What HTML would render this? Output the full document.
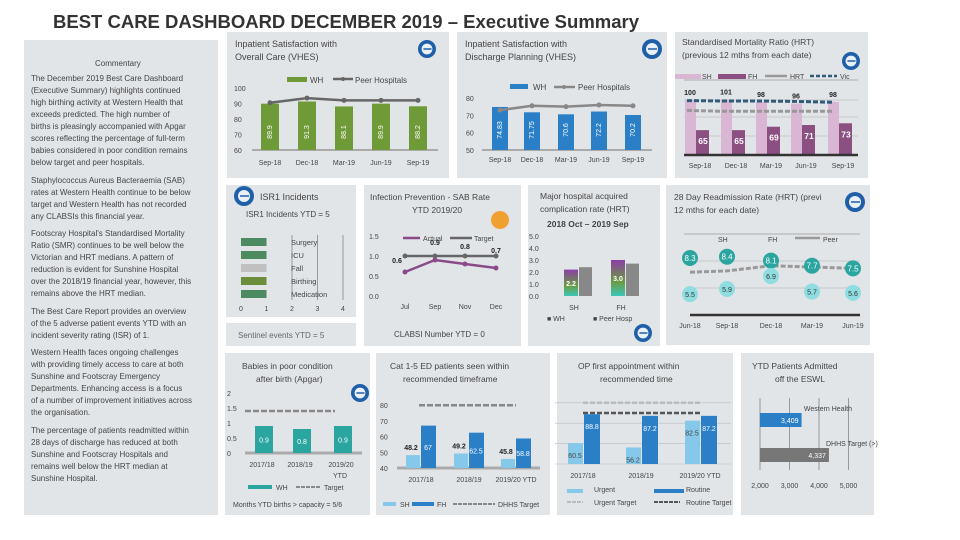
<!DOCTYPE html>
<html><head><meta charset="utf-8">
<style>
body{margin:0;width:960px;height:540px;background:#fff;overflow:hidden;font-family:"Liberation Sans",sans-serif;position:relative}
.p{position:absolute;background:#e2e5e8}
.t{position:absolute;color:#444;font-size:8px;line-height:12px;white-space:nowrap}
svg{position:absolute;left:0;top:0}
</style></head><body>
<div class="t" style="left:53px;top:11px;font-size:18.5px;line-height:22px;font-weight:bold;color:#333">BEST CARE DASHBOARD DECEMBER 2019 – Executive Summary</div>
<div class="p" style="left:24px;top:40px;width:194px;height:475px"></div>
<div class="p" style="left:227px;top:32px;width:222px;height:146px"></div>
<div class="p" style="left:457px;top:32px;width:210px;height:146px"></div>
<div class="p" style="left:675px;top:32px;width:193px;height:146px"></div>
<div class="p" style="left:226px;top:185px;width:130px;height:132px"></div>
<div class="p" style="left:226px;top:323px;width:130px;height:23px"></div>
<div class="p" style="left:364px;top:185px;width:157px;height:161px"></div>
<div class="p" style="left:528px;top:185px;width:132px;height:161px"></div>
<div class="p" style="left:666px;top:185px;width:204px;height:160px"></div>
<div class="p" style="left:225px;top:353px;width:145px;height:162px"></div>
<div class="p" style="left:376px;top:353px;width:174px;height:162px"></div>
<div class="p" style="left:557px;top:353px;width:176px;height:162px"></div>
<div class="p" style="left:741px;top:353px;width:133px;height:162px"></div>

<div class="t" style="left:95px;top:58px">Commentary</div>
<div class="t" style="left:31px;top:73px">The December 2019 Best Care Dashboard<br>(Executive Summary) highlights continued<br>high birthing activity at Western Health that<br>exceeds predicted.  The high number of<br>births is pleasingly accompanied with Apgar<br>scores reflecting the percentage of full-term<br>babies considered in poor condition remains<br>below target and peer hospitals.</div>
<div class="t" style="left:31px;top:175px">Staphylococcus Aureus Bacteraemia (SAB)<br>rates at Western Health continue to be below<br>target and Western Health has not recorded<br>any CLABSIs this financial year.</div>
<div class="t" style="left:31px;top:228px">Footscray Hospital's Standardised Mortality<br>Ratio (SMR) continues to be well below the<br>Victorian and HRT medians. A pattern of<br>reduction is evident for Sunshine Hospital<br>over the 2018/19 financial year, however, this<br>remains above the HRT median.</div>
<div class="t" style="left:31px;top:306px">The Best Care Report provides an overview<br>of the 5 adverse patient events YTD with an<br>incident severity rating (ISR) of 1.</div>
<div class="t" style="left:31px;top:347px">Western Health faces ongoing challenges<br>with providing timely access to care at both<br>Sunshine and Footscray Emergency<br>Departments.  Enhancing access is a focus<br>of a number of improvement initiatives across<br>the organisation.</div>
<div class="t" style="left:31px;top:425px">The percentage of patients readmitted within<br>28 days of discharge has reduced at both<br>Sunshine and Footscray Hospitals and<br>remains well below the HRT median at<br>Sunshine Hospital.</div>

<svg id="s" width="960" height="540" font-family="Liberation Sans, sans-serif" font-size="7" fill="#444"></svg>
<script>
// ---- data ----
const quarters=["Sep-18","Dec-18","Mar-19","Jun-19","Sep-19"];
const overallWH=[89.9,91.3,88.1,89.9,88.2];
const overallPeer=[90.5,93.5,92,92,92];
const overallTicks=[60,70,80,90,100];
const dischargeWH=[74.83,71.75,70.6,72.2,70.2];
const dischargePeer=[73,75.5,75,76,75.5];
const dischargeTicks=[50,60,70,80];
const smrSH=[100,101,98,96,98];
const smrFH=[65,65,69,71,73];
const smrHRT=[88,87,87,87,87];
const smrVic=[99.5,99,99,98.5,97.5];
const readmitQuarters=["Jun-18","Sep-18","Dec-18","Mar-19","Jun-19"];
const readmitSH=[8.3,8.4,8.1,7.7,7.5];
const readmitFH=[5.5,5.9,6.9,5.7,5.6];
const readmitPeer=[7.2,7.3,7.7,7.6,7.5];
const isrCategories=["Surgery","ICU","Fall","Birthing","Medication"];
const isrValues=[1,1,1,1,1];
const isrTicks=[0,1,2,3,4];
const sabMonths=["Jul","Sep","Nov","Dec"];
const sabActual=[0.6,0.9,0.8,0.7];
const sabTarget=[1,1,1,1];
const sabTicks=[0,0.5,1,1.5];
const compSites=["SH","FH"];
const compWH=[2.2,3.0];
const compPeer=[2.4,2.7];
const compTicks=[0,1,2,3,4,5];
const apgarYears=["2017/18","2018/19","2019/20"];
const apgarWH=[0.9,0.8,0.9];
const apgarTarget=1.4;
const apgarTicks=[0,0.5,1,1.5,2];
const edYears=["2017/18","2018/19","2019/20 YTD"];
const edSH=[48.2,49.2,45.8];
const edFH=[67,62.5,58.8];
const edTarget=80;
const edTicks=[40,50,60,70,80];
const opYears=["2017/18","2018/19","2019/20 YTD"];
const opUrgent=[60.5,56.2,82.5];
const opRoutine=[88.8,87.2,87.2];
const opUrgentTarget=100;
const opRoutineTarget=90;
const eswlLabels=["Western Health","DHHS Target (>)"];
const eswlValues=[3409,4337];
const eswlTicks=[2000,3000,4000,5000];

const S=document.getElementById('s');
const NS='http://www.w3.org/2000/svg';
function mk(tag,a,txt){const e=document.createElementNS(NS,tag);for(const k in a)e.setAttribute(k,a[k]);if(txt!==undefined)e.textContent=txt;S.appendChild(e);return e;}
function text(x,y,s,name,extra){const e=mk('text',Object.assign({x:x,y:y},extra||{}),s);
return e;}
function line(x1,y1,x2,y2,st,w,name,dash){const e=mk('line',{x1,y1,x2,y2,stroke:st,'stroke-width':w});if(dash)e.setAttribute('stroke-dasharray',dash);
return e;}
function rect(x,y,w,h,f,name){const e=mk('rect',{x:x,y:y,width:Math.max(0,w),height:Math.max(0,h),fill:f});
return e;}
function poly(pts,st,w,name,dash){const e=mk('polyline',{points:pts.map(p=>p.join(',')).join(' '),fill:'none',stroke:st,'stroke-width':w});if(dash)e.setAttribute('stroke-dasharray',dash);
return e;}
function dot(x,y,r,f,name){const e=mk('circle',{cx:x,cy:y,r:r,fill:f});
return e;}
function icon(x,y,r,name){const g=dot(x,y,r,'#1f5fa8',name);dot(x,y,r*0.6,'#e9f0f8',name+'-inner');line(x-r*0.4,y,x+r*0.5,y,'#1f5fa8',1.5,name+'-mark');}
const T=(s,x,y,n,o)=>text(x,y,s,n,o);

// ---- Overall care ----
T('Inpatient Satisfaction with',235,47,'overall-title',{'font-size':9});
T('Overall Care (VHES)',235,60,'overall-title-2',{'font-size':9});
icon(427,49,9,'overall-icon');
rect(287,77,20,5,'#6f9a38','overall-legend-wh');T('WH',310,83,'overall-legend-wh-label',{'font-size':8});
line(333,79,353,79,'#666',2.5,'overall-legend-peer');dot(343,79,2,'#666','overall-legend-peer-dot');T('Peer Hospitals',355,83,'overall-legend-peer-label',{'font-size':8});
const oy=v=>150-(v-60)*1.55, ox=[270,307,344,381,418];
overallTicks.forEach(t=>T(String(t),234,oy(t)+3,'overall-y-tick'));
line(252,150,438,150,'#aaa',2,'overall-baseline');
quarters.forEach((q,i)=>{rect(ox[i]-9,oy(overallWH[i]),18,150-oy(overallWH[i]),'#6f9a38','overall-bar-wh');
T(String(overallWH[i]),0,0,'overall-bar-value',{fill:'#fff','font-size':7,transform:`translate(${ox[i]+2},${132}) rotate(-90)`,'text-anchor':'middle'});
T(q,ox[i],165,'overall-x-tick',{'text-anchor':'middle'});});
poly(quarters.map((q,i)=>[ox[i],oy(overallPeer[i])]),'#666',2.5,'overall-peer-line');
quarters.forEach((q,i)=>dot(ox[i],oy(overallPeer[i]),2.5,'#666','overall-peer-point'));

// ---- Discharge ----
T('Inpatient Satisfaction with',465,47,'discharge-title',{'font-size':9});
T('Discharge Planning (VHES)',465,60,'discharge-title-2',{'font-size':9});
icon(652,49,10,'discharge-icon');
rect(510,84,18,5,'#2a7fc7','discharge-legend-wh');T('WH',533,90,'discharge-legend-wh-label',{'font-size':8});
line(554,87,575,87,'#888',2.5,'discharge-legend-peer');dot(564,87,2,'#888','discharge-legend-peer-dot');T('Peer Hospitals',578,90,'discharge-legend-peer-label',{'font-size':8});
const dy=v=>150-(v-50)*1.733, dx=[500,532,566,599,633];
dischargeTicks.forEach(t=>T(String(t),466,dy(t)+3,'discharge-y-tick'));
line(482,150,652,150,'#aaa',2,'discharge-baseline');
quarters.forEach((q,i)=>{rect(dx[i]-8,dy(dischargeWH[i]),16,150-dy(dischargeWH[i]),'#2a7fc7','discharge-bar-wh');
T(String(dischargeWH[i]),0,0,'discharge-bar-value',{fill:'#fff','font-size':7,transform:`translate(${dx[i]+2},130) rotate(-90)`,'text-anchor':'middle'});
T(q,dx[i],162,'discharge-x-tick',{'text-anchor':'middle'});});
poly(quarters.map((q,i)=>[dx[i],dy(dischargePeer[i])]),'#888',2.5,'discharge-peer-line');
quarters.forEach((q,i)=>dot(dx[i],dy(dischargePeer[i]),2.5,'#888','discharge-peer-point'));

// ---- SMR ----
T('Standardised Mortality Ratio (HRT)',682,45,'smr-title',{'font-size':8.5});
T('(previous 12 mths from each date)',682,58,'smr-title-2',{'font-size':8.5});
icon(851,61,9,'smr-icon');
rect(675,74,26,5,'#d8b6d4','smr-legend-sh');T('SH',702,79,'smr-legend-sh-label');
rect(718,74,28,5,'#8b4f82','smr-legend-fh');T('FH',748,79,'smr-legend-fh-label');
line(765,76,787,76,'#999',2.5,'smr-legend-hrt');T('HRT',790,79,'smr-legend-hrt-label');
line(810,76,837,76,'#2f5b7a',2.5,'smr-legend-vic','4,2');T('Vic',840,79,'smr-legend-vic-label');
line(684,80,858,80,'#999',0.7,'smr-legend-rule');
const sy=v=>155-(v-36)*0.857, sx=[700,736,771,806,843];
[100,117,136].forEach(y=>line(684,y,858,y,'#aaa',0.6,'smr-gridline'));
quarters.forEach((q,i)=>{rect(sx[i]-15,sy(smrSH[i]),11,155-sy(smrSH[i]),'#d8b6d4','smr-bar-sh');
rect(sx[i]-4,sy(smrFH[i]),13,155-sy(smrFH[i]),'#8b4f82','smr-bar-fh');
T(String(smrSH[i]),sx[i]-10,sy(smrSH[i])-5,'smr-sh-value',{'text-anchor':'middle','font-weight':'bold',fill:'#222'});
T(String(smrFH[i]),sx[i]+3,sy(smrFH[i])+14,'smr-fh-value',{'text-anchor':'middle','font-size':8.5,'font-weight':'bold',fill:'#fff'});
T(q,sx[i],168,'smr-x-tick',{'text-anchor':'middle'});});
poly(quarters.map((q,i)=>[sx[i]-13+i*1,sy(smrHRT[i])]),'#999',3,'smr-hrt-line','5,2');
poly(quarters.map((q,i)=>[sx[i]-13+i*1,sy(smrVic[i])]),'#2f5b7a',3,'smr-vic-line','5,2');
line(684,155,858,155,'#333',2.5,'smr-baseline');

// ---- ISR1 ----
icon(244,196,10,'isr-icon');
T('ISR1 Incidents',260,200,'isr-title',{'font-size':9});
T('ISR1 Incidents YTD = 5',246,217,'isr-ytd',{'font-size':8});
const ix=v=>241+v*25.5, iy=[242,255,268,281,294], ic=['#4e8a5f','#4e8a5f','#c0c0c0','#6b8e3a','#4e8a5f'];
isrTicks.forEach(t=>{T(String(t),ix(t),311,'isr-x-tick',{'text-anchor':'middle'});if(t>=2)line(ix(t),235,ix(t),300,'#666',0.6,'isr-gridline');});
isrCategories.forEach((c,i)=>{rect(ix(0),iy[i]-4,ix(isrValues[i])-ix(0),8,ic[i],'isr-bar');T(c,291,iy[i]+3,'isr-category-label',{'font-size':7.5});});
T('Sentinel events YTD = 5',238,338,'sentinel-label',{'font-size':8,fill:'#666'});

// ---- SAB ----
T('Infection Prevention - SAB Rate',370,200,'sab-title',{'font-size':8.5});
T('YTD 2019/20',412,213,'sab-title-2',{'font-size':8.5});
dot(500,220,9,'#f0a030','sab-icon');
const by=v=>296-v*40, bx=[405,435,465,496];
sabTicks.forEach(t=>T(String(t.toFixed(1)),369,by(t)+3,'sab-y-tick'));
line(403,238,420,238,'#8a4a8a',2.5,'sab-legend-actual');T('Actual',423,241,'sab-legend-actual-label');
line(450,238,472,238,'#666',2.5,'sab-legend-target');T('Target',474,241,'sab-legend-target-label');
poly(sabMonths.map((m,i)=>[bx[i],by(sabTarget[i])]),'#666',2.5,'sab-target-line');
poly(sabMonths.map((m,i)=>[bx[i],by(sabActual[i])]),'#8a4a8a',2.5,'sab-actual-line');
sabMonths.forEach((m,i)=>{dot(bx[i],by(sabTarget[i]),2.5,'#666','sab-target-point');dot(bx[i],by(sabActual[i]),2.5,'#8a4a8a','sab-actual-point');
T(String(sabActual[i]),bx[i]-(i==0?8:0),by(sabActual[i])-(i==0?9:15),'sab-actual-value',{'text-anchor':'middle','font-weight':'bold',fill:'#222'});
T(m,bx[i],309,'sab-x-tick',{'text-anchor':'middle'});});
T('CLABSI Number YTD = 0',394,337,'clabsi-label',{'font-size':8});

// ---- Complication ----
T('Major hospital acquired',540,199,'comp-title',{'font-size':8.5});
T('complication rate (HRT)',540,212,'comp-title-2',{'font-size':8.5});
T('2018 Oct – 2019 Sep',547,227,'comp-title-3',{'font-size':8.5,'font-weight':'bold'});
const cy=v=>296-v*12, cx=[571,618];
compTicks.forEach(t=>T(t.toFixed(1),529,cy(t)+3,'comp-y-tick'));
mk('defs',{}).innerHTML='<linearGradient id="gw" x1="0" y1="0" x2="0" y2="1"><stop offset="0" stop-color="#8b3fa8"/><stop offset="0.6" stop-color="#6a9a40"/><stop offset="1" stop-color="#3cc7b8"/></linearGradient>';
compSites.forEach((s,i)=>{rect(cx[i]-7,cy(compWH[i]),14,296-cy(compWH[i]),'url(#gw)','comp-bar-wh');
rect(cx[i]+8,cy(compPeer[i]),13,296-cy(compPeer[i]),'#888','comp-bar-peer');
T(compWH[i].toFixed(1),cx[i],cy(compWH[i]/2)+3,'comp-wh-value',{'text-anchor':'middle',fill:'#fff','font-weight':'bold'});
T(s,cx[i]+3,310,'comp-x-tick',{'text-anchor':'middle'});});
T('■ WH',547,321,'comp-legend-wh');T('■ Peer Hosp',593,321,'comp-legend-peer');
icon(643,333,9,'comp-icon');

// ---- Readmission ----
T('28 Day Readmission Rate (HRT) (previ',674,200,'readmit-title',{'font-size':8.5});
T('12 mths for each date)',674,213,'readmit-title-2',{'font-size':8.5});
icon(855,202,10,'readmit-icon');
line(684,234,860,234,'#999',0.7,'readmit-legend-rule');
T('SH',718,242,'readmit-legend-sh');T('FH',768,242,'readmit-legend-fh');
line(795,238,820,238,'#999',2.5,'readmit-legend-peer');T('Peer',823,242,'readmit-legend-peer-label');
const ry=v=>258-(v-8.3)*12.9, rx=[690,727,771,812,853];
[261,288].forEach(y=>line(688,y,860,y,'#aaa',0.6,'readmit-gridline'));
poly(readmitQuarters.map((q,i)=>[rx[i],ry(readmitPeer[i])]),'#999',3,'readmit-peer-line','5,2');
readmitQuarters.forEach((q,i)=>{dot(rx[i],ry(readmitSH[i]),8,'#2aa5a0','readmit-sh-point');
T(String(readmitSH[i]),rx[i],ry(readmitSH[i])+3,'readmit-sh-value',{'text-anchor':'middle',fill:'#fff','font-size':8});
dot(rx[i],ry(readmitFH[i]),8,'#8fdde0','readmit-fh-point');
T(String(readmitFH[i]),rx[i],ry(readmitFH[i])+3,'readmit-fh-value',{'text-anchor':'middle',fill:'#333'});
T(q,rx[i],328,'readmit-x-tick',{'text-anchor':'middle'});});
line(690,315,860,315,'#333',2.5,'readmit-baseline');

// ---- Apgar ----
T('Babies in poor condition',242,369,'apgar-title',{'font-size':8.5});
T('after birth (Apgar)',256,382,'apgar-title-2',{'font-size':8.5});
icon(360,393,9,'apgar-icon');
const ay=v=>453-v*30, axc=[264,302,343];
apgarTicks.forEach(t=>T(String(t),227,ay(t)+3,'apgar-y-tick'));
line(245,ay(apgarTarget),335,ay(apgarTarget),'#888',2.5,'apgar-target-line','6,2');
line(245,453,362,453,'#aaa',3,'apgar-baseline');
apgarYears.forEach((y,i)=>{rect(axc[i]-9,ay(apgarWH[i]),18,453-ay(apgarWH[i]),'#2aa5a0','apgar-bar-wh');
T(String(apgarWH[i]),axc[i],ay(apgarWH[i]/2)+3,'apgar-bar-value',{'text-anchor':'middle',fill:'#fff'});
T(y,axc[i]-2,467,'apgar-x-tick',{'text-anchor':'middle'});});
T('YTD',340,478,'apgar-x-tick-ytd',{'text-anchor':'middle'});
rect(248,485,24,4,'#2aa5a0','apgar-legend-wh');T('WH',276,490,'apgar-legend-wh-label');
line(296,487,320,487,'#888',2,'apgar-legend-target','4,1');T('Target',324,490,'apgar-legend-target-label');
T('Months YTD births > capacity = 5/6',233,507,'apgar-capacity-note');

// ---- ED ----
T('Cat 1-5 ED patients seen within',390,369,'ed-title',{'font-size':8.5});
T('recommended timeframe',403,382,'ed-title-2',{'font-size':8.5});
const ey=v=>468-(v-40)*1.57, es=[413,461,508];
edTicks.forEach(t=>T(String(t),380,ey(t)+3,'ed-y-tick'));
line(419,ey(edTarget),516,ey(edTarget),'#888',2.5,'ed-target-line','6,2');
line(397,468,540,468,'#aaa',3,'ed-baseline');
edYears.forEach((y,i)=>{rect(es[i]-7,ey(edSH[i]),14,468-ey(edSH[i]),'#85c8ea','ed-bar-sh');
rect(es[i]+8,ey(edFH[i]),15,468-ey(edFH[i]),'#2a7fc7','ed-bar-fh');
T(String(edSH[i]),es[i]-2,ey(edSH[i])-5,'ed-sh-value',{'text-anchor':'middle','font-weight':'bold',fill:'#222'});
T(String(edFH[i]),es[i]+15,ey(edFH[i]/2+20)+3,'ed-fh-value',{'text-anchor':'middle',fill:'#fff'});
T(y,es[i]+8,482,'ed-x-tick',{'text-anchor':'middle'});});
rect(383,502,13,4,'#85c8ea','ed-legend-sh');T('SH',400,507,'ed-legend-sh-label');
rect(412,502,22,4,'#2a7fc7','ed-legend-fh');T('FH',437,507,'ed-legend-fh-label');
line(453,504,495,504,'#888',2,'ed-legend-target','4,1');T('DHHS Target',498,507,'ed-legend-target-label');

// ---- OP ----
T('OP first appointment within',578,369,'op-title',{'font-size':8.5});
T('recommended time',600,382,'op-title-2',{'font-size':8.5});
const py=v=>464-(v-40)*1.02, pu=[575,633,692];
[40,60,80,100].forEach(t=>line(555,py(t),731,py(t),'#bbb',0.6,'op-gridline'));
line(583,py(opUrgentTarget),701,py(opUrgentTarget),'#bbb',2.5,'op-urgent-target','5,2');
line(583,py(opRoutineTarget),701,py(opRoutineTarget),'#555',2.5,'op-routine-target','5,2');
opYears.forEach((y,i)=>{rect(pu[i]-7,py(opUrgent[i]),15,464-py(opUrgent[i]),'#85c8ea','op-bar-urgent');
rect(pu[i]+9,py(opRoutine[i]),16,464-py(opRoutine[i]),'#2a7fc7','op-bar-routine');
T(String(opUrgent[i]),pu[i],py(opUrgent[i])+15,'op-urgent-value',{'text-anchor':'middle'});
T(String(opRoutine[i]),pu[i]+17,py(opRoutine[i])+15,'op-routine-value',{'text-anchor':'middle',fill:'#fff'});
T(y,pu[i]+8,478,'op-x-tick',{'text-anchor':'middle'});});
rect(567,489,16,4,'#85c8ea','op-legend-urgent');T('Urgent',594,492,'op-legend-urgent-label');
rect(654,489,30,4,'#2a7fc7','op-legend-routine');T('Routine',686,492,'op-legend-routine-label');
line(567,502,583,502,'#bbb',2,'op-legend-urgent-target','4,1');T('Urgent Target',594,505,'op-legend-urgent-target-label');
line(654,502,680,502,'#555',2,'op-legend-routine-target','4,1');T('Routine Target',686,505,'op-legend-routine-target-label');

// ---- ESWL ----
T('YTD Patients Admitted',752,369,'eswl-title',{'font-size':8.5});
T('off the ESWL',775,382,'eswl-title-2',{'font-size':8.5});
const wx=v=>760+(v-2000)*0.0295, wy=[420,455];
eswlTicks.forEach(t=>{line(wx(t),398,wx(t),470,'#666',0.6,'eswl-gridline');T(t.toLocaleString('en-US'),wx(t),488,'eswl-x-tick',{'text-anchor':'middle'});});
eswlValues.forEach((v,i)=>{rect(wx(2000),wy[i]-7,wx(v)-wx(2000),14,i?'#777':'#2a7fc7','eswl-bar');
T(v.toLocaleString('en-US'),wx(v)-3,wy[i]+3,'eswl-value',{'text-anchor':'end',fill:'#fff'});});
T(eswlLabels[0],852,411,'eswl-label-wh',{'text-anchor':'end'});
T(eswlLabels[1],826,446,'eswl-label-dhhs',{'text-anchor':'start'});
</script>
</body></html>
